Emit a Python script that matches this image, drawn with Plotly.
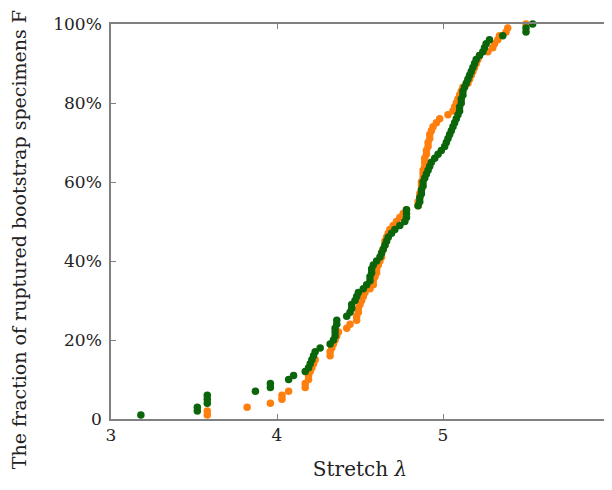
import plotly.graph_objects as go

# Fraction of ruptured bootstrap specimens (%), shared by both series
fraction_pct = [1, 2, 3, 4, 5, 6, 7, 8, 9, 10,
                11, 12, 13, 14, 15, 16, 17, 18, 19, 20,
                21, 22, 23, 24, 25, 26, 27, 28, 29, 30,
                31, 32, 33, 34, 35, 36, 37, 38, 39, 40,
                41, 42, 43, 44, 45, 46, 47, 48, 49, 50,
                51, 52, 53, 54, 55, 56, 57, 58, 59, 60,
                61, 62, 63, 64, 65, 66, 67, 68, 69, 70,
                71, 72, 73, 74, 75, 76, 77, 78, 79, 80,
                81, 82, 83, 84, 85, 86, 87, 88, 89, 90,
                91, 92, 93, 94, 95, 96, 97, 98, 99, 100]

# Stretch values, orange series
stretch_orange = [3.58, 3.58, 3.82, 3.96, 4.03, 4.03, 4.07, 4.17, 4.17, 4.19,
                  4.19, 4.20, 4.21, 4.22, 4.23, 4.32, 4.32, 4.33, 4.34, 4.35,
                  4.36, 4.37, 4.42, 4.44, 4.48, 4.48, 4.49, 4.49, 4.50, 4.51,
                  4.52, 4.53, 4.56, 4.58, 4.58, 4.59, 4.60, 4.60, 4.61, 4.62,
                  4.63, 4.63, 4.64, 4.65, 4.65, 4.66, 4.67, 4.68, 4.70, 4.72,
                  4.74, 4.76, 4.78, 4.85, 4.85, 4.86, 4.86, 4.87, 4.87, 4.87,
                  4.88, 4.88, 4.88, 4.89, 4.89, 4.89, 4.90, 4.90, 4.91, 4.91,
                  4.92, 4.92, 4.93, 4.94, 4.96, 4.98, 5.03, 5.06, 5.07, 5.08,
                  5.09, 5.10, 5.11, 5.12, 5.15, 5.16, 5.17, 5.18, 5.19, 5.20,
                  5.21, 5.22, 5.27, 5.30, 5.31, 5.33, 5.34, 5.38, 5.39, 5.50]

# Stretch values, green series
stretch_green = [3.18, 3.52, 3.52, 3.58, 3.58, 3.58, 3.87, 3.96, 3.96, 4.07,
                 4.10, 4.17, 4.19, 4.20, 4.21, 4.22, 4.23, 4.26, 4.32, 4.34,
                 4.35, 4.35, 4.35, 4.36, 4.36, 4.42, 4.44, 4.45, 4.45, 4.47,
                 4.48, 4.49, 4.52, 4.54, 4.56, 4.56, 4.57, 4.57, 4.58, 4.60,
                 4.62, 4.63, 4.64, 4.65, 4.66, 4.67, 4.69, 4.71, 4.74, 4.77,
                 4.78, 4.78, 4.78, 4.85, 4.86, 4.86, 4.87, 4.87, 4.88, 4.88,
                 4.89, 4.90, 4.91, 4.92, 4.93, 4.95, 4.97, 4.99, 5.01, 5.02,
                 5.03, 5.04, 5.05, 5.06, 5.07, 5.08, 5.09, 5.10, 5.10, 5.11,
                 5.11, 5.12, 5.12, 5.13, 5.14, 5.15, 5.16, 5.17, 5.18, 5.19,
                 5.20, 5.22, 5.24, 5.25, 5.26, 5.28, 5.36, 5.50, 5.50, 5.54]

x_ticks = [3, 4, 5, 6]
y_ticks = [0, 20, 40, 60, 80, 100]
y_tick_labels = ["0", "20%", "40%", "60%", "80%", "100%"]

FONT = "DejaVu Serif"

fig = go.Figure()
fig.add_trace(go.Scatter(x=stretch_orange, y=fraction_pct, mode="markers",
                         marker=dict(color="#FF7F0E", size=7.5, line=dict(width=0)),
                         cliponaxis=False, showlegend=False))
fig.add_trace(go.Scatter(x=stretch_green, y=fraction_pct, mode="markers",
                         marker=dict(color="#0B650B", size=7.5, line=dict(width=0)),
                         cliponaxis=False, showlegend=False))

axis_common = dict(showgrid=False, zeroline=False, showline=True, mirror="allticks",
                   linecolor="#808080", linewidth=1.5, ticks="inside", ticklen=5,
                   tickcolor="#808080", tickwidth=1,
                   tickfont=dict(family=FONT, size=17, color="#222222"))

fig.update_layout(
    width=612, height=490,
    margin=dict(l=103, r=6, t=14, b=79),
    paper_bgcolor="white", plot_bgcolor="white",
    font=dict(family=FONT, size=17, color="#222222"),
    xaxis=dict(range=[3, 6], tickvals=x_ticks, ticktext=[str(v) for v in x_ticks],
               title=dict(text="Stretch <i>λ</i>", font=dict(family=FONT, size=20), standoff=18),
               **axis_common),
    yaxis=dict(range=[0, 100], tickvals=y_ticks, ticktext=y_tick_labels,
               ticklabelstandoff=4, **axis_common),
    annotations=[dict(text="The fraction of ruptured bootstrap specimens F",
                      xref="paper", yref="paper", x=-0.185, y=0.455,
                      xanchor="center", yanchor="middle", textangle=-90,
                      showarrow=False, font=dict(family=FONT, size=19, color="#222222"))],
)

fig.write_html("out.html")
